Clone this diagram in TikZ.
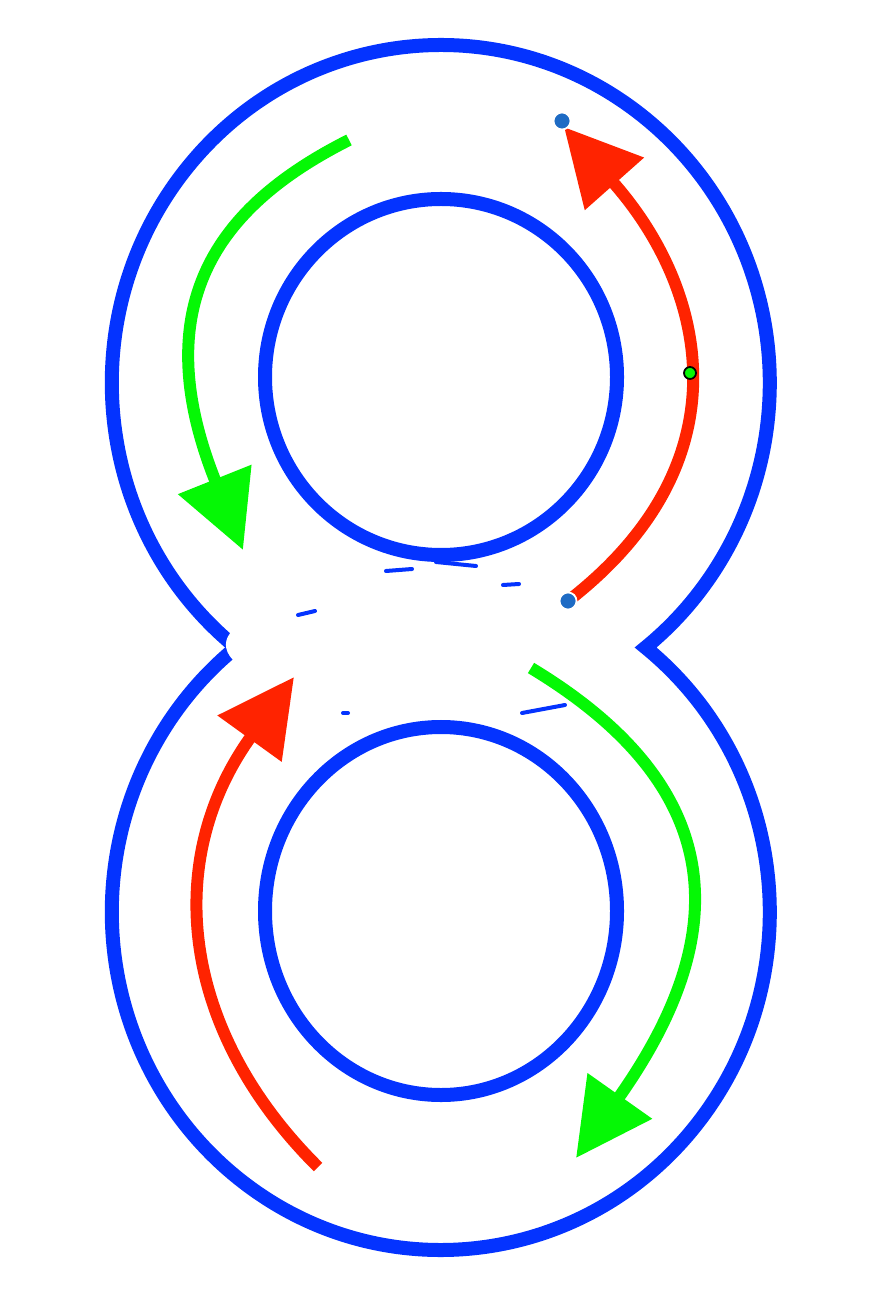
\documentclass[tikz,border=0pt]{standalone}
\usepackage{xcolor}
\usepackage{tikz}
\usetikzlibrary{arrows.meta}
\definecolor{loopblue}{HTML}{0433FF}
\definecolor{flowred}{HTML}{FF2300}
\definecolor{flowgreen}{HTML}{05F805}
\definecolor{pinblue}{HTML}{1E6BC4}
\tikzset{
  loopline/.style={draw=loopblue, line width=0.14cm},
  sliver/.style={draw=loopblue, line width=0.04cm, line cap=round},
  redflow/.style={draw=flowred, line width=0.12cm, -{Triangle[length=0.76cm, width=0.76cm]}},
  greenflow/.style={draw=flowgreen, line width=0.12cm, -{Triangle[length=0.76cm, width=0.76cm]}},
  pin/.style={circle, fill=pinblue, draw=white, line width=0.5pt, inner sep=0pt, minimum size=0.17cm},
  handle/.style={circle, fill=flowgreen, draw=black, line width=0.5pt, inner sep=0pt, minimum size=0.12cm}
}

\begin{document}
\begin{tikzpicture}[x=0.01cm, y=-0.01cm]
  \useasboundingbox (0,0) rectangle (872,1298);

  % figure eight and the two holes
  \draw[loopline] (236,647.5) arc[start angle=128.5, end angle=411.5, x radius=329, y radius=338]
    arc[start angle=-51.5, end angle=231.5, x radius=329, y radius=338] -- cycle;
  \draw[loopline] (441,377) ellipse[x radius=176, y radius=178];
  \draw[loopline] (441,911) ellipse[x radius=176, y radius=184];

  % erased patch at the waist
  \fill[white] plot[smooth cycle, tension=0.6] coordinates {(233,630) (233,660) (290,690) (350,711) (440,716) (520,711)
    (580,690) (633,648) (633,634) (578,610) (530,586) (440,576) (350,586) (290,606)};
  \draw[sliver] (386,571) -- (412,569);
  \draw[sliver] (436,562) -- (476,566);
  \draw[sliver] (503,585) -- (519,584);
  \draw[sliver] (298,615) -- (315,611);
  \draw[sliver] (522,713) -- (565,705);
  \draw[sliver] (343,713) -- (348,713);

  % end points
  \coordinate (gtopstart) at (349,140);
  \coordinate (gtoptip) at (243,550);
  \coordinate (rtopstart) at (568,601);
  \coordinate (rtoptip) at (564,127);
  \coordinate (rbotstart) at (318,1167);
  \coordinate (rbottip) at (294,677);
  \coordinate (gbotstart) at (531,668);
  \coordinate (gbottip) at (576,1158);

  % flows
  \draw[greenflow] (gtopstart) .. controls (226,202) and (142,298) .. (gtoptip);
  \draw[redflow] (rtopstart) .. controls (750,460) and (705,286) .. (rtoptip);
  \draw[redflow] (rbotstart) .. controls (180,1030) and (162,860) .. (rbottip);
  \draw[greenflow] (gbotstart) .. controls (750,800) and (718,957) .. (gbottip);

  \node[pin] (pina) at (562,121) {};
  \node[pin] (pinb) at (568,601) {};
  \node[handle] (mid) at (690,373) {};
\end{tikzpicture}
\end{document}
